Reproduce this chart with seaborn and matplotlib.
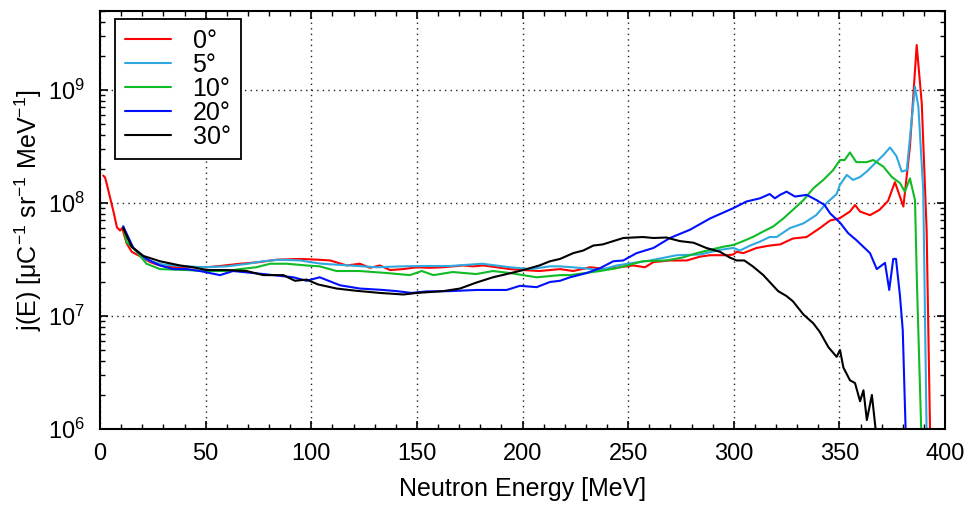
import numpy as np
import pandas as pd
import matplotlib
matplotlib.use("Agg")
import matplotlib.pyplot as plt
import seaborn as sns
from matplotlib.ticker import MultipleLocator, LogLocator, NullFormatter

# ---------------- data ----------------
labels = ["0°", "5°", "10°", "20°", "30°"]
colors = ["#ff0000", "#2fa8df", "#10bb25", "#0010ff", "#000000"]

E_0 = [1.5, 2.4, 3.3, 4.7, 6.5, 8, 9.5, 10.5, 12.6, 15, 17.4, 20, 23.7, 27, 31.6, 41, 50.5, 56.8,
       66.3, 75.7, 83.6, 94.7, 103, 109, 116.8, 123, 127.8, 132.5, 137.3, 143.4, 150, 156, 162.4,
       172, 176.6, 181.4, 187.8, 194, 200.4, 208, 213, 217.8, 224, 232, 239.8, 246, 252.4, 258,
       262, 269.8, 277.7, 284, 288.8, 296.7, 299.8, 301.4, 304.5, 310.8, 317, 322, 328, 334.5,
       340.8, 345.6, 350, 355, 357.4, 359.8, 364.5, 369, 373, 376.3, 380.3, 383.4, 386.6, 389,
       391.3, 393]
J_0 = [1.75e8, 1.68e8, 1.45e8, 1.13e8, 8.2e7, 6.1e7, 5.7e7, 6.0e7, 4.4e7, 3.7e7, 3.5e7, 3.3e7,
       3.0e7, 2.85e7, 2.73e7, 2.7e7, 2.7e7, 2.77e7, 2.9e7, 3.0e7, 3.15e7, 3.2e7, 3.15e7, 3.1e7,
       2.8e7, 2.9e7, 2.67e7, 2.8e7, 2.55e7, 2.6e7, 2.7e7, 2.67e7, 2.7e7, 2.8e7, 2.75e7, 2.8e7,
       2.7e7, 2.6e7, 2.55e7, 2.5e7, 2.55e7, 2.6e7, 2.5e7, 2.7e7, 2.6e7, 2.7e7, 2.8e7, 2.7e7,
       3.0e7, 3.1e7, 3.1e7, 3.35e7, 3.45e7, 3.45e7, 3.5e7, 3.7e7, 3.6e7, 4.0e7, 4.2e7, 4.3e7,
       4.85e7, 5.0e7, 6.0e7, 7.0e7, 7.3e7, 8.4e7, 9.6e7, 8.4e7, 7.8e7, 8.7e7, 1.04e8, 1.53e8,
       9.3e7, 3.15e8, 2.5e9, 7.6e8, 5.8e7, 8e5]

E_5 = [11, 12.6, 15.8, 20, 25, 30, 40, 50, 60, 70, 77, 85, 95, 99.4, 105, 118, 131, 143, 153,
       165.7, 181, 194, 203.6, 213, 217.8, 228.8, 236.7, 244.6, 252.4, 260.4, 273, 284, 293.5,
       299.8, 303, 307.7, 312.4, 317, 320.3, 326.6, 333, 339, 344, 348.7, 350.3, 353.5, 356.5,
       359.8, 363, 366.9, 370.8, 374, 377, 379.5, 381.9, 385.8, 387.4, 389.7, 391.5]
J_5 = [6.2e7, 5.0e7, 4.0e7, 3.3e7, 3.0e7, 2.85e7, 2.75e7, 2.7e7, 2.75e7, 2.9e7, 3.05e7, 3.15e7,
       3.1e7, 3.0e7, 2.9e7, 2.8e7, 2.7e7, 2.75e7, 2.77e7, 2.77e7, 2.9e7, 2.7e7, 2.6e7, 2.75e7,
       2.75e7, 2.65e7, 2.55e7, 2.8e7, 2.95e7, 3.1e7, 3.45e7, 3.5e7, 3.85e7, 4.0e7, 3.8e7, 4.2e7,
       4.55e7, 5.0e7, 5.0e7, 6.0e7, 6.6e7, 7.8e7, 1.0e8, 1.2e8, 1.45e8, 1.77e8, 1.6e8, 1.7e8,
       1.9e8, 2.25e8, 2.65e8, 3.1e8, 2.6e8, 1.9e8, 1.95e8, 1.07e9, 7.1e8, 1.3e8, 5e5]

E_10 = [11, 12.6, 17.4, 22, 28.4, 41, 50.5, 60, 66.3, 74, 80.5, 88.4, 97.8, 104, 112, 123, 135.7,
        146.7, 152.3, 157.8, 167, 178, 186, 194, 206.7, 217.8, 222.5, 236.7, 244.6, 257, 268,
        276, 282.5, 288.8, 295, 299.8, 304.5, 309, 314, 318.7, 323.5, 328, 333, 337.7, 342.4,
        347, 350.3, 352.5, 355, 358, 363, 366, 370.8, 374.8, 378.7, 381, 383.4, 385.8, 386.7,
        389.2]
J_10 = [6.2e7, 4.5e7, 3.7e7, 2.9e7, 2.6e7, 2.55e7, 2.5e7, 2.5e7, 2.6e7, 2.7e7, 2.9e7, 2.9e7,
        2.8e7, 2.75e7, 2.5e7, 2.5e7, 2.4e7, 2.3e7, 2.5e7, 2.3e7, 2.45e7, 2.35e7, 2.5e7, 2.4e7,
        2.2e7, 2.3e7, 2.3e7, 2.5e7, 2.65e7, 3.05e7, 3.1e7, 3.3e7, 3.6e7, 3.85e7, 4.1e7, 4.25e7,
        4.6e7, 5.0e7, 5.6e7, 6.2e7, 7.3e7, 8.7e7, 1.06e8, 1.35e8, 1.6e8, 1.95e8, 2.4e8, 2.4e8,
        2.8e8, 2.3e8, 2.3e8, 2.4e8, 2.1e8, 1.7e8, 1.5e8, 1.26e8, 1.65e8, 1.06e8, 2e7, 5e5]

E_20 = [11, 15.8, 22, 28.4, 34.7, 41, 47.3, 56.8, 63, 72.6, 82, 91.5, 97.8, 104, 113.6, 123,
        134, 140.4, 147.5, 154.6, 165.7, 178.3, 192.5, 198.8, 206.7, 213, 217.8, 222.5, 230.4,
        236.7, 243, 247.7, 254, 262, 269.8, 279.3, 288.8, 299.8, 306, 312.4, 317, 319.5, 321.9,
        325, 329, 334.5, 339.2, 343, 345.6, 350.3, 354.2, 358, 364.5, 367.7, 371.6, 373.6,
        375.5, 376.8, 378.7, 380, 381.5]
J_20 = [6.2e7, 4.0e7, 3.2e7, 2.8e7, 2.6e7, 2.6e7, 2.5e7, 2.3e7, 2.5e7, 2.4e7, 2.3e7, 2.2e7,
        2.05e7, 2.2e7, 1.87e7, 1.75e7, 1.7e7, 1.66e7, 1.6e7, 1.65e7, 1.66e7, 1.7e7, 1.7e7,
        1.85e7, 1.8e7, 2.0e7, 2.05e7, 2.2e7, 2.4e7, 2.65e7, 3.05e7, 3.1e7, 3.6e7, 4.0e7, 4.9e7,
        5.8e7, 7.3e7, 9.0e7, 1.03e8, 1.1e8, 1.2e8, 1.1e8, 1.18e8, 1.26e8, 1.14e8, 1.18e8,
        1.06e8, 9.6e7, 8.1e7, 6.7e7, 5.4e7, 4.7e7, 3.6e7, 2.6e7, 2.95e7, 1.7e7, 3.2e7, 3.2e7,
        1.5e7, 7.5e6, 8e5]

E_30 = [11, 15, 20.5, 28.4, 37.9, 44, 50.5, 60, 69.4, 77.3, 86.8, 92.3, 97.8, 103.3, 112, 121.5,
        132.5, 143.6, 150, 162.5, 170.4, 178.3, 186, 192.5, 200.4, 208, 213, 217.8, 224, 228.8,
        233.5, 238, 243, 247.7, 257, 262, 268, 274.5, 281, 287, 293.5, 298, 301.4, 305, 309,
        314, 317, 321, 325, 328, 333, 337.7, 340.8, 344.8, 348.7, 350.3, 351.9, 355, 357.4,
        359.8, 361.4, 363, 365.4, 367.7]
J_30 = [6.0e7, 4.1e7, 3.4e7, 3.05e7, 2.8e7, 2.7e7, 2.55e7, 2.55e7, 2.5e7, 2.3e7, 2.3e7, 2.05e7,
        2.1e7, 1.9e7, 1.75e7, 1.67e7, 1.6e7, 1.55e7, 1.6e7, 1.66e7, 1.75e7, 1.98e7, 2.2e7,
        2.35e7, 2.55e7, 2.8e7, 3.05e7, 3.2e7, 3.6e7, 3.8e7, 4.2e7, 4.3e7, 4.6e7, 4.9e7, 5.0e7,
        4.9e7, 4.95e7, 4.6e7, 4.45e7, 4.0e7, 3.7e7, 3.3e7, 3.1e7, 3.1e7, 2.75e7, 2.3e7, 2.0e7,
        1.66e7, 1.5e7, 1.35e7, 1.03e7, 8.6e6, 7.2e6, 5.3e6, 4.35e6, 5.0e6, 3.5e6, 2.7e6,
        2.55e6, 1.76e6, 2.2e6, 1.2e6, 2.0e6, 8e5]

x_ticks = [0, 50, 100, 150, 200, 250, 300, 350, 400]
x_label = "Neutron Energy [MeV]"
y_label = "j(E) [μC$^{-1}$ sr$^{-1}$ MeV$^{-1}$]"

# ---------------- build table ----------------
series = [(E_0, J_0), (E_5, J_5), (E_10, J_10), (E_20, J_20), (E_30, J_30)]
frames = []
for lab, (e, j) in zip(labels, series):
    frames.append(pd.DataFrame({"E": e, "j": j, "angle": lab}))
df = pd.concat(frames, ignore_index=True)

# ---------------- style ----------------
sns.set_theme(style="ticks")
plt.rcParams["font.family"] = ["Liberation Sans", "DejaVu Sans"]
plt.rcParams["mathtext.fontset"] = "custom"
plt.rcParams["mathtext.rm"] = "Liberation Sans"
plt.rcParams["mathtext.it"] = "Liberation Sans:italic"
plt.rcParams["mathtext.bf"] = "Liberation Sans:bold"
for k in ["text.color", "axes.labelcolor", "xtick.color", "ytick.color", "axes.edgecolor"]:
    plt.rcParams[k] = "black"
FS_TICK = 17
FS_LAB = 18

fig = plt.figure(figsize=(9.71, 5.07), dpi=100)
ax = fig.add_axes([100 / 971, 1 - 429 / 507, 845 / 971, 418 / 507])

sns.lineplot(data=df, x="E", y="j", hue="angle", hue_order=labels,
             palette=dict(zip(labels, colors)), sort=False, estimator=None,
             linewidth=1.5, legend=False, ax=ax)

ax.set_yscale("log")
ax.set_xlim(0, 400)
ax.set_ylim(1e6, 5e9)
ax.set_xticks(x_ticks)
ax.xaxis.set_minor_locator(MultipleLocator(10))
ax.yaxis.set_major_locator(LogLocator(base=10, numticks=10))
ax.yaxis.set_minor_locator(LogLocator(base=10, subs=np.arange(2, 10), numticks=20))
ax.yaxis.set_minor_formatter(NullFormatter())

ax.grid(True, which="major", linestyle=(0, (1, 3)), color="#222222", linewidth=1.0)
ax.set_axisbelow(True)

ax.tick_params(which="both", direction="in", top=True, right=True, labelsize=FS_TICK)
ax.tick_params(axis="x", which="major", length=6, width=1.2, pad=10)
ax.tick_params(axis="y", which="major", length=6, width=1.2, pad=11)
ax.tick_params(which="minor", length=3.5, width=1.0)
for s in ax.spines.values():
    s.set_linewidth(1.5)

ax.set_xlabel(x_label, fontsize=FS_LAB, labelpad=9)
ax.set_ylabel(y_label, fontsize=FS_LAB)
ax.yaxis.set_label_coords(-0.066, 0.524)

handles = ax.get_lines()[:5]
leg = ax.legend(handles, labels, loc="upper left", bbox_to_anchor=(15 / 845, 1 - 8 / 418),
                borderaxespad=0, fontsize=FS_LAB, frameon=True, fancybox=False,
                edgecolor="black", framealpha=1, handlelength=1.85, handletextpad=0.85,
                labelspacing=0.0, borderpad=0.4)
leg.get_frame().set_linewidth(1.3)

fig.savefig("out.png", dpi=100)
